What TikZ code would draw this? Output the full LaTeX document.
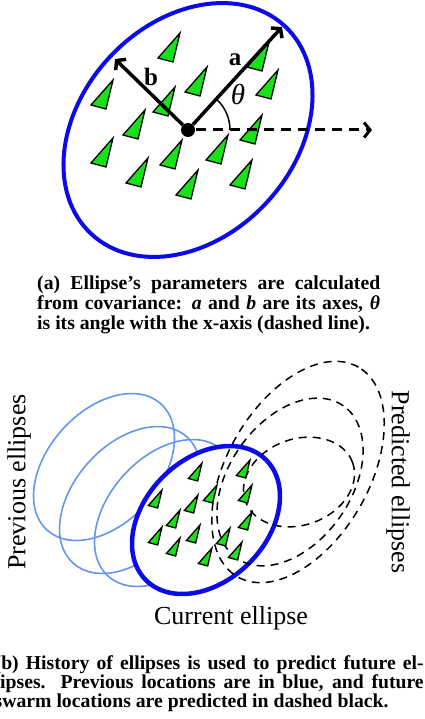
\documentclass[tikz,border=0pt]{standalone}
\usepackage{fontspec}
\setmainfont{Liberation Serif}
\usetikzlibrary{arrows.meta}
\definecolor{ellblue}{RGB}{10,10,235}
\definecolor{prevblue}{RGB}{100,150,235}
\definecolor{swarmgreen}{RGB}{25,225,25}
\tikzset{
  agent/.pic={\draw[fill=swarmgreen,line width=1.3pt,line join=miter] (0,0) -- (-22,-25) -- (-7,-29) -- cycle;},
  axis/.style={line width=3.5pt,-{Straight Barb[length=6pt,width=15pt]}},
  prev/.style={prevblue,line width=1.6pt},
  pred/.style={black,line width=1.5pt,dash pattern=on 8pt off 6pt},
  caption/.style={inner sep=0pt,align=justify,anchor=north west},
  biglabel/.style={font=\fontsize{26}{30}\selectfont}
}

\begin{document}
\begin{tikzpicture}[x=1pt,y=1pt]
\useasboundingbox (0,0) rectangle (424,-719);
% (a) one ellipse, its axes and angle
\draw[ellblue,line width=4pt,rotate around={47:(188,-130)}] (188,-130) ellipse (142 and 107);
\foreach \px/\py in {180/33,207/67,113/80,175/87,269/42,278/70,145/110,262/115,113/138,182/140,228/135,148/158,198/170,252/160}
  \pic at (\px,-\py) {agent};
\node[circle,fill,inner sep=0pt,minimum size=14pt] (ctr) at (188,-130) {};
\coordinate (atip) at (282,-27);
\coordinate (btip) at (115,-59);
\coordinate (xtip) at (372,-130);
\draw[axis] (ctr) -- (atip);
\draw[axis] (ctr) -- (btip);
\draw[axis,line width=3pt,dash pattern=on 10pt off 7pt] (ctr) ++(8,0) -- (xtip);
\draw[line width=1.5pt] (ctr.center) ++(42,0) arc (0:47:42);
\node[font=\fontsize{25}{25}\selectfont\bfseries] (alab) at (235,-60) {a};
\node[font=\fontsize{25}{25}\selectfont\bfseries] (blab) at (151,-77) {b};
\node[font=\fontsize{29}{29}\selectfont\itshape] (thlab) at (238,-95) {θ};
\node[caption,text width=343pt,font=\fontsize{19.7}{20}\selectfont\bfseries] (capa) at (37,-276)
  {(a) Ellipse’s parameters are calculated\linebreak from covariance: \textit{a} and \textit{b} are its axes, \textit{θ}\linebreak is its angle with the x-axis (dashed line).};

% (b) history and prediction
\foreach \cx/\cy in {104/467,130/500,165/513}
  \draw[prev,rotate around={48:(\cx,-\cy)}] (\cx,-\cy) ellipse (85 and 56);
\draw[ellblue,fill=white,line width=4.5pt,rotate around={45:(206,-520)}] (206,-520) ellipse (85 and 61);
\draw[pred,rotate around={60:(298,-472)}] (298,-472) ellipse (121 and 71);
\draw[pred,rotate around={55:(290,-482)}] (290,-482) ellipse (93 and 61);
\draw[pred,rotate around={20:(299,-482)}] (299,-482) ellipse (57 and 43);
\foreach \px/\py in {202/463,217/485,162/490,198/495,180/510,162/527,200/525,230/528,180/538,212/548,242/542,250/460,252/485,252/512}
  \pic[scale=.62] at (\px,-\py) {agent};
\node[biglabel,rotate=90] (prevlab) at (19,-482) {Previous ellipses};
\node[biglabel,rotate=-90] (predlab) at (398,-482) {Predicted ellipses};
\node[biglabel] (curlab) at (231,-618) {Current ellipse};
\node[caption,text width=429pt,font=\fontsize{19.7}{19}\selectfont\bfseries] (capb) at (-5.5,-655)
  {(b) History of ellipses is used to predict future el-\linebreak lipses. Previous locations are in blue, and future\linebreak swarm locations are predicted in dashed black.};
\end{tikzpicture}
\end{document}
